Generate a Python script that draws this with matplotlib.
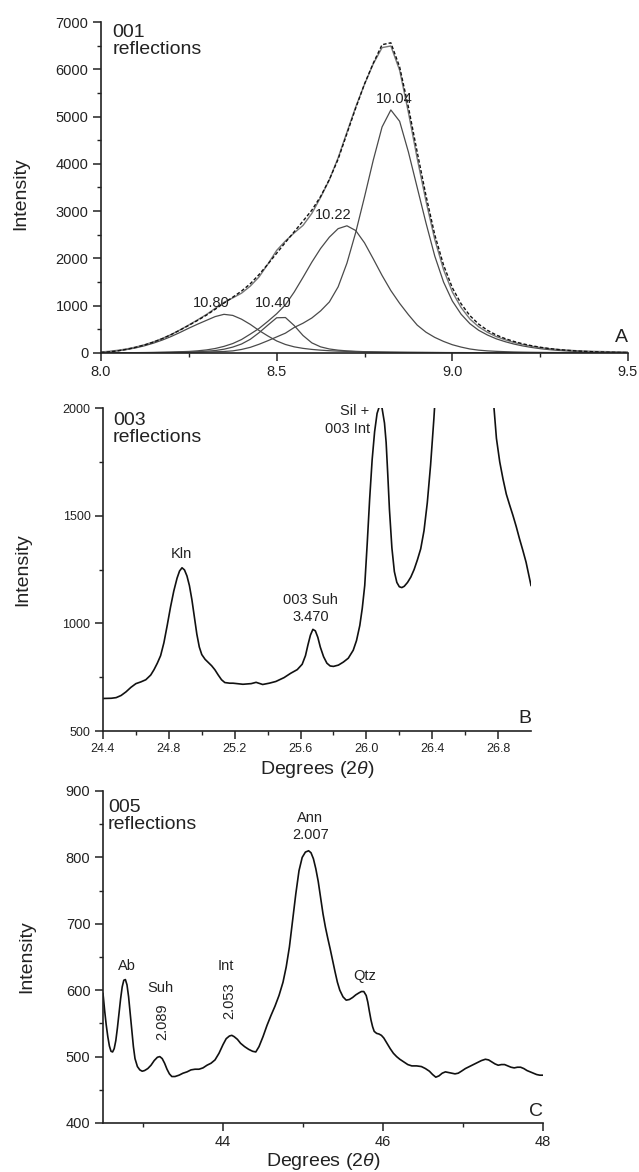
import numpy as np
import matplotlib
matplotlib.use('Agg')
import matplotlib.pyplot as plt

plt.rcParams['font.family'] = ['Liberation Sans', 'DejaVu Sans']
plt.rcParams['mathtext.fontset'] = 'custom'
plt.rcParams['mathtext.rm'] = 'Liberation Sans'
plt.rcParams['mathtext.it'] = 'Liberation Sans:italic'

# ---------------- Panel A : 001 reflections (decomposition) ----------------
two_theta_a = np.round(np.arange(8.0, 9.5001, 0.025), 3)

comp_1080 = [15, 28, 48, 75, 110, 155, 210, 275, 350, 435, 525, 610, 690, 770, 818,
             795, 715, 605, 475, 360, 255, 180, 130, 98, 76, 60, 48, 40, 34, 29, 25,
             22, 19, 17, 15, 14, 13, 12, 11, 10, 9, 9, 8, 8, 7, 7, 7, 6, 6, 6, 5, 5,
             5, 5, 4, 4, 4, 4, 4, 3, 3]
comp_1040 = [3, 3, 4, 5, 6, 7, 8, 10, 12, 16, 21, 28, 38, 52, 80, 125, 190, 290, 430,
             590, 745, 750, 580, 370, 215, 130, 85, 60, 45, 35, 28, 23, 19, 16, 14, 12,
             11, 10, 9, 8, 7, 7, 6, 6, 5, 5, 5, 5, 4, 4, 4, 4, 4, 3, 3, 3, 3, 3, 3, 3, 3]
comp_1022 = [3, 4, 5, 6, 8, 10, 13, 17, 21, 27, 33, 46, 65, 95, 140, 200, 285, 400, 520,
             670, 830, 1020, 1290, 1600, 1920, 2210, 2450, 2630, 2690, 2590, 2330, 1990,
             1640, 1320, 1050, 810, 590, 440, 330, 245, 175, 125, 85, 60, 45, 35, 28, 22,
             18, 15, 13, 11, 10, 9, 8, 7, 6, 6, 5, 5, 4]
comp_1004 = [2, 2, 3, 3, 4, 5, 6, 7, 9, 11, 14, 17, 21, 26, 32, 45, 75, 120, 185, 260,
             340, 420, 540, 630, 740, 890, 1080, 1400, 1900, 2550, 3300, 4080, 4780, 5140,
             4900, 4250, 3500, 2750, 2050, 1500, 1100, 820, 620, 480, 380, 300, 240, 190,
             150, 118, 92, 72, 56, 44, 35, 28, 22, 18, 15, 12, 10]
measured_a = [10, 25, 48, 80, 122, 172, 232, 305, 390, 485, 585, 690, 800, 925, 1055,
              1180, 1310, 1465, 1660, 1880, 2110, 2340, 2565, 2790, 3020, 3310, 3670,
              4100, 4640, 5180, 5690, 6130, 6520, 6560, 6050, 5200, 4250, 3330, 2500,
              1860, 1380, 1040, 790, 610, 480, 380, 305, 245, 195, 155, 122, 95, 74, 58,
              45, 35, 27, 21, 16, 12, 9]
labels_a = ['10.80', '10.40', '10.22', '10.04']
label_pos_a = [(8.313, 1047), (8.49, 1047), (8.66, 2919), (8.835, 5362)]

# ---------------- Panel B : 003 reflections ----------------
two_theta_b = [24.40, 24.45, 24.48, 24.51, 24.54, 24.57, 24.60, 24.63, 24.66, 24.69,
               24.71, 24.73, 24.75, 24.77, 24.79, 24.81, 24.83, 24.85, 24.865, 24.88,
               24.895, 24.91, 24.925, 24.94, 24.955, 24.97, 24.985, 25.00, 25.02, 25.04,
               25.06, 25.08, 25.10, 25.12, 25.14, 25.17, 25.19, 25.25, 25.30, 25.33,
               25.37, 25.41, 25.45, 25.50, 25.54, 25.58, 25.61, 25.63, 25.645, 25.66,
               25.675, 25.69, 25.705, 25.72, 25.74, 25.76, 25.78, 25.80, 25.83, 25.86,
               25.89, 25.92, 25.94, 25.96, 25.975, 25.99, 26.005, 26.02, 26.035, 26.05,
               26.065, 26.08, 26.095, 26.11, 26.12, 26.13, 26.14, 26.155, 26.17, 26.185,
               26.20, 26.215, 26.23, 26.25, 26.27, 26.29, 26.31, 26.33, 26.35, 26.37,
               26.39, 26.41, 26.43, 26.50, 26.60, 26.70, 26.75, 26.77, 26.79, 26.81,
               26.83, 26.85, 26.87, 26.89, 26.91, 26.93, 26.95, 26.97, 26.985, 27.00]
intensity_b = [651, 652, 655, 665, 682, 703, 720, 728, 738, 760,
               785, 815, 850, 910, 990, 1075, 1150, 1210, 1243, 1258,
               1248, 1220, 1175, 1110, 1030, 950, 890, 855, 833, 818,
               803, 784, 760, 738, 725, 722, 722, 717, 720, 726,
               716, 722, 730, 748, 768, 785, 810, 850, 900, 945,
               972, 965, 935, 890, 845, 815, 802, 800, 806, 820,
               838, 875, 920, 990, 1070, 1176, 1370, 1579, 1760, 1890,
               1975, 2010, 2000, 1930, 1840, 1690, 1530, 1350, 1240, 1190,
               1170, 1166, 1172, 1190, 1215, 1250, 1295, 1346, 1430, 1560,
               1735, 1950, 2200, 3000, 3800, 3000, 2300, 2050, 1859, 1750,
               1670, 1600, 1550, 1502, 1450, 1393, 1340, 1284, 1230, 1176]

# ---------------- Panel C : 005 reflections ----------------
two_theta_c = [42.50, 42.52, 42.54, 42.56, 42.58, 42.60, 42.62, 42.64, 42.66, 42.68,
               42.70, 42.72, 42.74, 42.76, 42.78, 42.80, 42.82, 42.84, 42.86, 42.88,
               42.90, 42.93, 42.96, 42.99, 43.02, 43.06, 43.10, 43.14, 43.18, 43.21,
               43.24, 43.27, 43.30, 43.33, 43.36, 43.40, 43.45, 43.50, 43.55, 43.60,
               43.65, 43.70, 43.75, 43.80, 43.85, 43.90, 43.95, 44.00, 44.04, 44.08,
               44.11, 44.14, 44.18, 44.22, 44.27, 44.32, 44.37, 44.41, 44.45, 44.50,
               44.55, 44.60, 44.65, 44.70, 44.75, 44.79, 44.83, 44.87, 44.91, 44.95,
               44.99, 45.03, 45.07, 45.10, 45.13, 45.16, 45.19, 45.22, 45.25, 45.28,
               45.31, 45.34, 45.37, 45.40, 45.43, 45.46, 45.50, 45.54, 45.58, 45.62,
               45.66, 45.70, 45.73, 45.76, 45.79, 45.81, 45.83, 45.85, 45.87, 45.89,
               45.92, 45.95, 45.98, 46.01, 46.05, 46.09, 46.13, 46.17, 46.21, 46.26,
               46.31, 46.36, 46.42, 46.48, 46.53, 46.58, 46.62, 46.66, 46.70, 46.74,
               46.78, 46.82, 46.86, 46.90, 46.94, 46.98, 47.03, 47.08, 47.13, 47.18,
               47.23, 47.28, 47.32, 47.36, 47.40, 47.44, 47.48, 47.52, 47.56, 47.60,
               47.64, 47.68, 47.72, 47.76, 47.80, 47.84, 47.88, 47.92, 47.96, 48.00]
intensity_c = [595, 570, 548, 530, 516, 508, 507, 512, 524, 543,
               565, 587, 605, 615, 616, 608, 590, 565, 540, 515,
               497, 485, 480, 478, 479, 482, 487, 494, 499, 500,
               497, 490, 481, 474, 470, 470, 472, 475, 477, 480,
               481, 481, 483, 487, 490, 495, 505, 518, 527, 531,
               532, 530, 526, 520, 515, 511, 508, 507, 515, 530,
               547, 562, 576, 592, 612, 635, 665, 705, 745, 780,
               800, 808, 810, 807, 798, 783, 764, 740, 715, 695,
               678, 662, 645, 628, 612, 600, 590, 585, 586, 589,
               593, 596, 598, 598, 592, 582, 568, 555, 545, 538,
               535, 534, 532, 528, 520, 512, 505, 500, 496, 492,
               488, 486, 486, 485, 482, 478, 473, 469, 471, 475,
               477, 476, 475, 474, 475, 478, 482, 485, 488, 491,
               494, 496, 495, 492, 489, 487, 488, 488, 486, 484,
               483, 484, 484, 482, 479, 477, 475, 473, 472, 472]
labels_c = ['Ab', 'Suh', 'Int', 'Ann\n2.007', 'Qtz']
label_pos_c = [(42.80, 636), (43.22, 603), (44.04, 636), (45.09, 847), (45.77, 621)]
rot_labels_c = ['2.089', '2.053']
rot_pos_c = [(43.24, 553), (44.08, 584)]

W, H = 639, 1172
fig = plt.figure(figsize=(W / 100, H / 100), dpi=100)

def px_axes(l, r, t, b):
    return fig.add_axes([l / W, 1 - b / H, (r - l) / W, (b - t) / H])

def style(ax, size):
    for s in ['top', 'right']:
        ax.spines[s].set_visible(False)
    for s in ['left', 'bottom']:
        ax.spines[s].set_linewidth(1.2)
        ax.spines[s].set_color('#222222')
    ax.tick_params(which='major', direction='out', length=6, width=1.1,
                   colors='#222222', labelsize=size, pad=3)
    ax.tick_params(which='minor', direction='out', length=3, width=1.0,
                   colors='#222222')

gray = '#4a4a4a'

# Panel A
axA = px_axes(101, 628, 22, 353)
style(axA, 10.5)
for comp in [comp_1080, comp_1040, comp_1022, comp_1004]:
    axA.plot(two_theta_a, comp, color=gray, lw=0.9)
fit_sum = (np.array(comp_1080) + np.array(comp_1040) + np.array(comp_1022)
           + np.array(comp_1004))
axA.plot(two_theta_a, fit_sum, color='#777777', lw=1.0)
axA.plot(two_theta_a, measured_a, color='#111111', lw=1.0, dashes=(2.5, 1.5))
for t, (x, y) in zip(labels_a, label_pos_a):
    axA.text(x, y, t, ha='center', va='center', fontsize=10.5, color='#222222')
axA.set_xlim(8.0, 9.5)
axA.set_ylim(0, 7000)
axA.set_xticks([8.0, 8.5, 9.0, 9.5])
axA.set_xticklabels(['8.0', '8.5', '9.0', '9.5'])
axA.set_xticks([8.25, 8.75, 9.25], minor=True)
axA.set_yticks(range(0, 7001, 1000))
axA.set_yticks(range(500, 7000, 1000), minor=True)
axA.text(0.022, 0.995, '001\nreflections', transform=axA.transAxes, ha='left',
         va='top', fontsize=14, linespacing=1.0, color='#222222')
axA.text(1.0, 0.02, 'A', transform=axA.transAxes, ha='right', va='bottom',
         fontsize=14, color='#222222')
axA.set_ylabel('Intensity', fontsize=14, va='center', color='#222222')
axA.yaxis.set_label_coords((21 - 101) / 527, (353 - 194) / 331)

# Panel B
axB = px_axes(103, 531, 408, 731)
style(axB, 9)
axB.plot(two_theta_b, intensity_b, color='#111111', lw=1.2)
axB.set_xlim(24.4, 27.0)
axB.set_ylim(500, 2000)
xt_b = [24.4, 24.8, 25.2, 25.6, 26.0, 26.4, 26.8]
axB.set_xticks(xt_b)
axB.set_xticklabels(['%.1f' % v for v in xt_b])
axB.set_xticks([24.6, 25.0, 25.4, 25.8, 26.2, 26.6], minor=True)
axB.set_yticks([500, 1000, 1500, 2000])
axB.set_yticks([750, 1250, 1750], minor=True)
axB.text(24.874, 1322, 'Kln', ha='center', va='center', fontsize=10.5, color='#222222')
axB.text(25.66, 1068, '003 Suh\n3.470', ha='center', va='center', fontsize=10.5,
         linespacing=1.3, color='#222222')
axB.text(26.02, 1944, 'Sil +\n003 Int', ha='right', va='center', fontsize=10.5,
         multialignment='right', linespacing=1.3, color='#222222')
axB.text(0.023, 0.988, '003\nreflections', transform=axB.transAxes, ha='left',
         va='top', fontsize=14, linespacing=1.0, color='#222222')
axB.text(1.0, 0.012, 'B', transform=axB.transAxes, ha='right', va='bottom',
         fontsize=14, color='#222222')
axB.set_ylabel('Intensity', fontsize=14, va='center', color='#222222')
axB.yaxis.set_label_coords((22.5 - 103) / 428, 0.5)
axB.set_xlabel('Degrees (2$\\it{\\theta}$)', fontsize=14, va='center', color='#222222')
axB.xaxis.set_label_coords(0.5, (731 - 770) / 323)

# Panel C
axC = px_axes(103, 543, 791, 1123)
style(axC, 10.5)
axC.plot(two_theta_c, intensity_c, color='#111111', lw=1.2)
axC.set_xlim(42.5, 48.0)
axC.set_ylim(400, 900)
axC.set_xticks([44, 46, 48])
axC.set_xticks([43, 45, 47], minor=True)
axC.set_yticks(range(400, 901, 100))
axC.set_yticks(range(450, 900, 100), minor=True)
for t, (x, y) in zip(labels_c, label_pos_c):
    axC.text(x, y, t, ha='center', va='center', fontsize=10.5, linespacing=1.3,
             color='#222222')
for t, (x, y) in zip(rot_labels_c, rot_pos_c):
    axC.text(x, y, t, ha='center', va='center', fontsize=10.5, rotation=90,
             color='#222222')
axC.text(0.011, 0.976, '005\nreflections', transform=axC.transAxes, ha='left',
         va='top', fontsize=14, linespacing=1.0, color='#222222')
axC.text(1.0, 0.01, 'C', transform=axC.transAxes, ha='right', va='bottom',
         fontsize=14, color='#222222')
axC.set_ylabel('Intensity', fontsize=14, va='center', color='#222222')
axC.yaxis.set_label_coords((26.5 - 103) / 440, 0.5)
axC.set_xlabel('Degrees (2$\\it{\\theta}$)', fontsize=14, va='center', color='#222222')
axC.xaxis.set_label_coords(0.5, (1123 - 1162) / 332)

fig.savefig('out.png', dpi=100)
